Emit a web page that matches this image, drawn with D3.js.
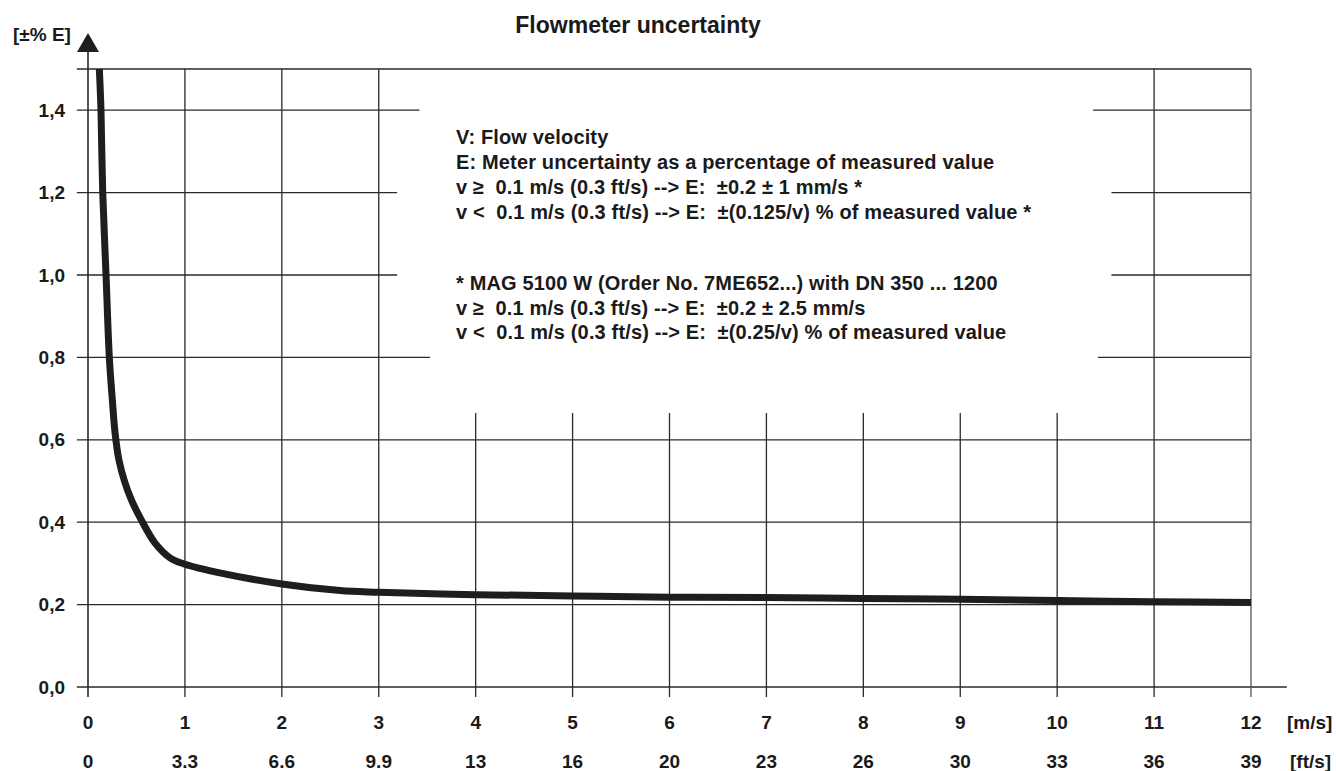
<!DOCTYPE html>
<html>
<head>
<meta charset="utf-8">
<script src="https://cdn.jsdelivr.net/npm/d3@7"></script>
<style>
  body { margin: 0; background: #fff; }
  text { font-family: "Liberation Sans", Arial, sans-serif; fill: #1a1a1a; }
</style>
</head>
<body>
<svg id="chart" width="1336" height="771"></svg>
<script>
// flow velocity [m/s] and uncertainty [±% E]
const velocity = [0.117, 0.134, 0.152, 0.186, 0.22, 0.25, 0.28, 0.32, 0.38, 0.45, 0.54, 0.69, 0.85, 1.0, 1.36, 2.0, 2.6, 3, 4, 5, 6, 7, 8, 9, 10, 11, 12];
const uncertainty = [1.5, 1.4, 1.2, 1.0, 0.8, 0.70, 0.615, 0.55, 0.497, 0.453, 0.41, 0.35, 0.313, 0.298, 0.277, 0.25, 0.234, 0.23, 0.224, 0.221, 0.218, 0.217, 0.215, 0.213, 0.21, 0.207, 0.205];

const msTicks = [0, 1, 2, 3, 4, 5, 6, 7, 8, 9, 10, 11, 12];
const ftLabels = ["0", "3.3", "6.6", "9.9", "13", "16", "20", "23", "26", "30", "33", "36", "39"];
const eTicks = [0, 0.2, 0.4, 0.6, 0.8, 1.0, 1.2, 1.4];

const title = "Flowmeter uncertainty";
const notes = [
  "V: Flow velocity",
  "E: Meter uncertainty as a percentage of measured value",
  "v \u2265 \u00a00.1 m/s (0.3 ft/s) --> E: \u00a0\u00b10.2 \u00b1 1 mm/s *",
  "v < \u00a00.1 m/s (0.3 ft/s) --> E: \u00a0\u00b1(0.125/v) % of measured value *"
];
const notes2 = [
  "* MAG 5100 W (Order No. 7ME652...) with DN 350 ... 1200",
  "v \u2265 \u00a00.1 m/s (0.3 ft/s) --> E: \u00a0\u00b10.2 \u00b1 2.5 mm/s",
  "v < \u00a00.1 m/s (0.3 ft/s) --> E: \u00a0\u00b1(0.25/v) % of measured value"
];

let svg = d3.select("#chart");
let ink = "#1e1e1e";

let x = d3.scaleLinear().domain([0, 12]).range([88, 1251]);
let y = d3.scaleLinear().domain([0, 1.5]).range([687, 69]);

// gaps left in the grid for the text block (in data units)
let hGaps = { "1.4": [3.42, 10.37], "1.2": [3.19, 10.56], "1": [3.19, 10.56], "0.8": [3.53, 10.42] };
let vTop = 0.665; // vertical lines 4..10 stop here

let grid = svg.append("g").attr("stroke", "#2a2a2a").attr("stroke-width", 1.3);

// horizontal grid
eTicks.concat([1.5]).forEach(function(v) {
  let gap = hGaps[String(v)];
  let segs = gap ? [[-0.115, gap[0]], [gap[1], 12]] : [[-0.115, v === 0 ? 12.37 : 12]];
  segs.forEach(function(s) {
    grid.append("line")
      .attr("x1", x(s[0])).attr("x2", x(s[1]))
      .attr("y1", y(v)).attr("y2", y(v))
      .attr("stroke-width", v === 0 ? 1.6 : 1.3);
  });
});

// vertical grid + tick marks below axis
msTicks.forEach(function(t) {
  let top = (t >= 4 && t <= 10) ? y(vTop) : y(1.5);
  if (t === 0) top = 40;
  grid.append("line")
    .attr("x1", x(t)).attr("x2", x(t))
    .attr("y1", top).attr("y2", y(0) + 10)
    .attr("stroke", t === 12 ? "#555" : "#2a2a2a")
    .attr("stroke-width", t === 0 ? 1.6 : 1.3);
});

// arrow on y axis
svg.append("path")
  .attr("d", d3.line()([[x(0), 33], [x(0) - 11, 52], [x(0) + 11, 52]]) + "Z")
  .attr("fill", ink);

// curve
let line = d3.line()
  .x(function(d) { return x(d[0]); })
  .y(function(d) { return y(d[1]); })
  .curve(d3.curveCatmullRom.alpha(0.5));

svg.append("path")
  .datum(d3.zip(velocity, uncertainty))
  .attr("d", line)
  .attr("fill", "none")
  .attr("stroke", ink)
  .attr("stroke-width", 7);

// y tick labels
let fmt = function(v) { return d3.format(".1f")(v).replace(".", ","); };
svg.append("g").selectAll("text")
  .data(eTicks).enter().append("text")
  .attr("x", 65).attr("y", function(d) { return y(d); })
  .attr("dy", "0.35em")
  .attr("text-anchor", "end")
  .attr("font-size", 19).attr("font-weight", "bold")
  .text(fmt);

// x tick labels, m/s and ft/s rows
svg.append("g").selectAll("text")
  .data(msTicks).enter().append("text")
  .attr("x", function(d) { return x(d); }).attr("y", 722)
  .attr("dy", "0.35em").attr("text-anchor", "middle")
  .attr("font-size", 19).attr("font-weight", "bold")
  .text(function(d) { return d; });

svg.append("g").selectAll("text")
  .data(ftLabels).enter().append("text")
  .attr("x", function(d, i) { return x(msTicks[i]); }).attr("y", 761)
  .attr("dy", "0.35em").attr("text-anchor", "middle")
  .attr("font-size", 19).attr("font-weight", "bold")
  .text(function(d) { return d; });

svg.append("text").attr("x", 1287).attr("y", 722).attr("dy", "0.35em")
  .attr("font-size", 19).attr("font-weight", "bold").text("[m/s]");
svg.append("text").attr("x", 1290).attr("y", 761).attr("dy", "0.35em")
  .attr("font-size", 19).attr("font-weight", "bold").text("[ft/s]");

svg.append("text").attr("x", 13).attr("y", 34).attr("dy", "0.35em")
  .attr("font-size", 19).attr("font-weight", "bold").text("[\u00b1% E]");

svg.append("text").attr("x", 638).attr("y", 25).attr("dy", "0.35em")
  .attr("text-anchor", "middle")
  .attr("font-size", 23).attr("font-weight", "bold").text(title);

// text block
let block = svg.append("g")
  .attr("font-size", 20).attr("font-weight", "bold")
  .style("letter-spacing", "0.15px");
notes.forEach(function(s, i) {
  block.append("text").attr("x", 456).attr("y", 137 + i * 25).attr("dy", "0.35em").text(s);
});
notes2.forEach(function(s, i) {
  block.append("text").attr("x", 456).attr("y", 283 + i * 24.5).attr("dy", "0.35em").text(s);
});
</script>
</body>
</html>
